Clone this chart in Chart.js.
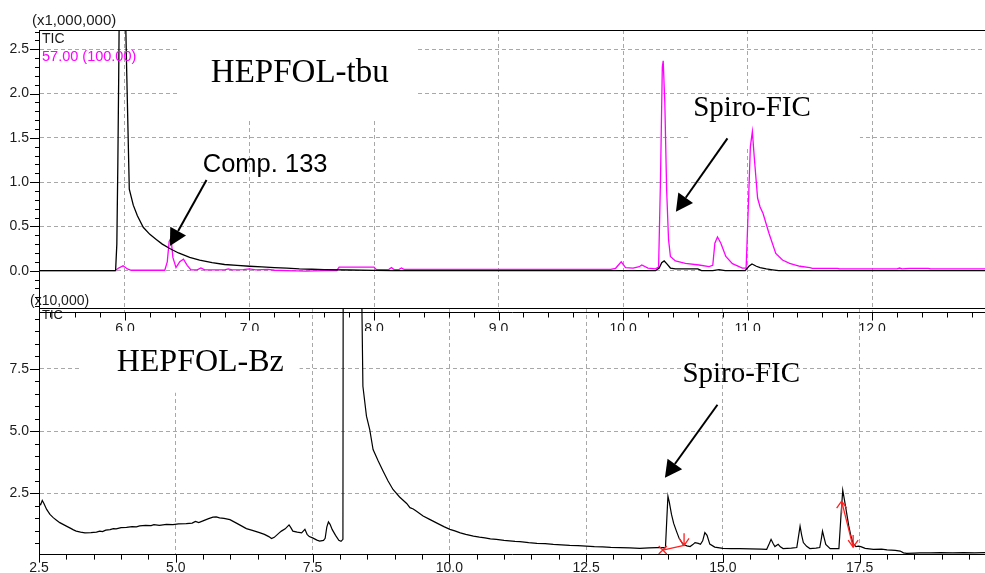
<!DOCTYPE html>
<html>
<head>
<meta charset="utf-8">
<script src="https://cdn.jsdelivr.net/npm/chart.js@4/dist/chart.umd.min.js"></script>
<style>
  html, body { margin: 0; padding: 0; background: #fff; }
  #wrap { position: relative; width: 985px; height: 573px; overflow: hidden; background: #fff; }
  #wrap canvas { position: absolute; left: 0; top: 0; }
</style>
</head>
<body>
<div id="wrap">
  <canvas id="chart-bz" width="985" height="573"></canvas>
  <canvas id="chart-tbu" width="985" height="331"></canvas>
</div>
<script>

/*
  ==================================================
  ====================== DATA ======================
  ==================================================
*/

// HEPFOL-tbu, TIC (x1,000,000) vs retention time (min)
let tbuTicX = [5.31, 5.88, 5.925, 5.935, 5.943, 5.95, 5.956, 5.99, 6.0, 6.015, 6.035, 6.067, 6.1, 6.147, 6.2, 6.254, 6.3, 6.36,
  6.43, 6.52, 6.6, 6.7, 6.8, 6.9, 7.0, 7.1, 7.2, 7.3, 7.4, 7.5, 7.6, 7.8, 8.0, 8.15, 10.26, 10.29, 10.31, 10.33, 10.35,
  10.38, 10.42, 10.6, 10.63, 10.72, 10.77, 10.82, 10.98, 11.01, 11.035, 11.07, 11.1, 11.15, 11.2, 11.25, 12.91];
let tbuTicY = [0, 0, 0, 0.3, 1.2, 2.2, 3.2, 3.6, 3.2, 2.2, 0.92, 0.74, 0.62, 0.49, 0.41, 0.35, 0.30, 0.25,
  0.20, 0.15, 0.12, 0.09, 0.07, 0.06, 0.05, 0.042, 0.035, 0.028, 0.02, 0.016, 0.012, 0.008, 0.004, 0, 0, 0.03, 0.09, 0.11, 0.08,
  0.03, 0.02, 0.02, 0, 0, 0.012, 0, 0, 0.05, 0.075, 0.05, 0.035, 0.02, 0.01, 0, 0];

// HEPFOL-tbu, m/z 57.00 (100.00)
let tbuIonX = [5.31, 5.92, 5.95, 5.985, 6.02, 6.05, 6.32, 6.34, 6.355, 6.37, 6.385, 6.41, 6.44, 6.47, 6.5, 6.53, 6.58,
  6.61, 6.64, 6.8, 6.83, 6.86, 6.95, 7.0, 7.05, 7.15, 7.2, 7.3, 7.45, 7.6, 7.7, 7.72, 8.0, 8.02, 8.12, 8.14, 8.16,
  8.2, 8.22, 8.24, 8.9, 9.9, 9.94, 9.985, 10.02, 10.08, 10.13, 10.15, 10.2, 10.26, 10.285, 10.3, 10.315, 10.322,
  10.335, 10.35, 10.365, 10.38, 10.42, 10.5, 10.61, 10.69, 10.72, 10.737, 10.758, 10.785, 10.825, 10.878, 10.958,
  10.988, 11.005, 11.022, 11.038, 11.055, 11.08, 11.1, 11.124, 11.172, 11.226, 11.28, 11.337, 11.42, 11.5, 11.52, 11.72,
  11.74, 12.2, 12.22, 12.24, 12.3, 12.45, 12.47, 12.91];
let tbuIonY = [0, 0, 0.03, 0.055, 0.02, 0.005, 0.005, 0.1, 0.33, 0.37, 0.15, 0.035, 0.1, 0.13, 0.06, 0.01, 0.01,
  0.03, 0.01, 0.01, 0.02, 0.01, 0.012, 0.02, 0.01, 0.015, 0.005, 0, -0.005, 0, 0, 0.04, 0.04, 0.012, 0.015, 0.035, 0.012,
  0.012, 0.03, 0.015, 0.015, 0.015, 0.027, 0.10, 0.034, 0.03, 0.045, 0.064, 0.03, 0.02, 0.04, 1.0, 2.3, 2.37,
  1.9, 0.9, 0.35, 0.16, 0.11, 0.083, 0.064, 0.045, 0.06, 0.31, 0.38, 0.31, 0.16, 0.08, 0.03,
  0.03, 0.7, 1.4, 1.57, 1.25, 0.82, 0.72, 0.645, 0.42, 0.195, 0.12, 0.083, 0.05, 0.035, 0.027, 0.027,
  0.02, 0.02, 0.03, 0.02, 0.025, 0.025, 0.02, 0.02];

// HEPFOL-Bz, TIC (x10,000)
let bzTicX = [2.5, 2.505, 2.53, 2.56, 2.59, 2.64, 2.7, 2.76, 2.82, 2.88, 2.94, 3.0, 3.08, 3.13, 3.18, 3.26, 3.34, 3.45,
  3.55, 3.61, 3.66, 3.72, 3.8, 3.86, 3.91, 4.0, 4.1, 4.2, 4.28, 4.34, 4.45, 4.55, 4.6, 4.7, 4.83, 4.95, 5.05, 5.19,
  5.3, 5.36, 5.42, 5.52, 5.6, 5.68, 5.74, 5.8, 5.88, 5.99, 6.1, 6.2, 6.29, 6.4, 6.53, 6.62, 6.7, 6.75, 6.8, 6.88,
  6.93, 7.0, 7.07, 7.1, 7.14, 7.22, 7.3, 7.36, 7.4, 7.44, 7.5, 7.58, 7.63, 7.7, 7.73, 7.76, 7.79, 7.82, 7.86, 7.92,
  7.98, 8.02, 8.055, 8.06, 8.39, 8.42, 8.485, 8.545, 8.606, 8.7, 8.79, 8.88, 8.97, 9.09, 9.22, 9.28, 9.34, 9.4,
  9.52, 9.64, 9.8, 9.9, 10.01, 10.1, 10.2, 10.3, 10.44, 10.55, 10.65, 10.75, 10.86, 11.0, 11.1, 11.2, 11.29, 11.45,
  11.6, 11.75, 11.9, 12.05, 12.2, 12.35, 12.5, 12.65, 12.8, 12.95, 13.12, 13.3, 13.48, 13.65, 13.79, 13.95, 13.975,
  13.995, 14.02, 14.06, 14.1, 14.15, 14.2, 14.27, 14.34, 14.4, 14.45, 14.49, 14.55, 14.59, 14.63, 14.67, 14.71,
  14.76, 14.85, 15.0, 15.15, 15.31, 15.5, 15.7, 15.8, 15.85, 15.88, 15.92, 15.95, 16.01, 16.05, 16.1, 16.25, 16.35,
  16.39, 16.41, 16.44, 16.47, 16.53, 16.59, 16.7, 16.77, 16.8, 16.82, 16.85, 16.88, 16.96, 17.05, 17.12, 17.16,
  17.19, 17.22, 17.25, 17.3, 17.34, 17.38, 17.43, 17.48, 17.52, 17.6, 17.75, 17.9, 18.0, 18.15, 18.24, 18.3, 18.36,
  18.5, 18.6, 18.8, 18.97, 19.2, 19.4, 19.6, 19.8];
let bzTicY = [6.0, 2.1, 2.05, 2.22, 2.1, 1.86, 1.66, 1.53, 1.43, 1.33, 1.26, 1.19, 1.1, 1.04, 0.99, 0.95, 0.92, 0.93,
  0.95, 0.99, 0.97, 1.03, 1.05, 1.09, 1.08, 1.13, 1.14, 1.17, 1.16, 1.2, 1.22, 1.21, 1.25, 1.22, 1.26, 1.25, 1.28, 1.29,
  1.31, 1.38, 1.33, 1.42, 1.49, 1.55, 1.56, 1.52, 1.5, 1.45, 1.32, 1.2, 1.09, 1.02, 0.93, 0.86, 0.77, 0.69, 0.74, 0.9,
  0.99, 1.08, 1.24, 1.14, 0.99, 0.95, 0.92, 1.06, 0.86, 0.77, 0.72, 0.63, 0.59, 0.62, 0.7, 1.15, 1.36, 1.26, 1.05, 0.82,
  0.62, 0.58, 0.66, 12, 12, 6.8, 5.6, 5.06, 4.26, 3.8, 3.39, 3.0, 2.66, 2.36, 2.1, 1.93, 1.88, 1.79,
  1.6, 1.46, 1.28, 1.17, 1.06, 1.0, 0.92, 0.86, 0.79, 0.75, 0.72, 0.68, 0.66, 0.62, 0.6, 0.58, 0.57, 0.53,
  0.5, 0.49, 0.46, 0.44, 0.42, 0.41, 0.39, 0.37, 0.36, 0.34, 0.33, 0.32, 0.3, 0.32, 0.33, 0.33, 1.5,
  2.39, 2.15, 1.66, 1.3, 0.99, 0.7, 0.46, 0.4, 0.37, 0.45, 0.53, 0.5, 0.46, 0.6, 0.93, 0.82,
  0.47, 0.35, 0.3, 0.29, 0.29, 0.28, 0.27, 0.26, 0.5, 0.66, 0.48, 0.37, 0.46, 0.36, 0.29, 0.31, 0.33,
  0.9, 1.19, 0.82, 0.53, 0.38, 0.29, 0.31, 0.33, 0.7, 0.99, 0.72, 0.46, 0.29, 0.29, 0.29, 1.7,
  2.63, 2.25, 1.86, 1.2, 0.79, 0.5, 0.37, 0.39, 0.37, 0.3, 0.26, 0.27, 0.24, 0.22, 0.19, 0.12, 0.1,
  0.11, 0.12, 0.12, 0.13, 0.12, 0.13, 0.12, 0.13];

// labelled (major) ticks
let tbuXTicks = [6.0, 7.0, 8.0, 9.0, 10.0, 11.0, 12.0];
let tbuYTicks = [0.0, 0.5, 1.0, 1.5, 2.0, 2.5];
let bzXTicks = [2.5, 5.0, 7.5, 10.0, 12.5, 15.0, 17.5];
let bzYTicks = [2.5, 5.0, 7.5];

/*
  ==================================================
  ===================== HELPERS =====================
  ==================================================
*/

let SANS = '"Liberation Sans", Arial, sans-serif';
let SERIF = '"Liberation Serif", "Times New Roman", serif';

let pairs = (xs, ys) => xs.map((x, i) => ({ x, y: ys[i] }));
let near = (a, b) => Math.abs(a - b) < 1e-6;
let inList = list => v => list.some(t => near(t, v));

let tickValues = (min, max, step) => {
  let out = [];
  for (let k = Math.ceil(min / step - 1e-9); k * step <= max + 1e-9; k++)
    out.push(Math.round(k * step * 1e6) / 1e6);
  return out;
}

let axis = ({ min, max, step, major, size, padding, horizontal }) => ({
  type: 'linear', min, max,
  afterBuildTicks: scale => { scale.ticks = tickValues(min, max, step).map(value => ({ value })) },
  afterFit: scale => { if (horizontal) scale.height = size; else scale.width = size; },
  ticks: {
    autoSkip: false, maxRotation: 0, padding, color: '#1a1a1a',
    font: { family: SANS, size: 14 },
    callback: v => major(v) ? v.toFixed(1) : ''
  },
  grid: {
    drawTicks: false,
    color: c => c.tick && major(c.tick.value) ? '#a8a8a8' : 'rgba(0,0,0,0)'
  },
  border: { display: true, color: '#000', width: 1, dash: [4, 3] }
})

let arrow = (ctx, x1, y1, x2, y2, head, half) => {
  let a = Math.atan2(y2 - y1, x2 - x1);
  let bx = x2 - head * Math.cos(a), by = y2 - head * Math.sin(a);
  ctx.beginPath(); ctx.moveTo(x1, y1); ctx.lineTo(bx, by); ctx.stroke();
  ctx.beginPath(); ctx.moveTo(x2, y2);
  ctx.lineTo(bx + half * Math.sin(a), by - half * Math.cos(a));
  ctx.lineTo(bx - half * Math.sin(a), by + half * Math.cos(a));
  ctx.closePath(); ctx.fill();
}

// small open arrow used by the integration marks (dir 1 = down, -1 = up)
let openHead = (ctx, x, y, dir) => {
  ctx.beginPath();
  ctx.moveTo(x - 5, y - 7 * dir); ctx.lineTo(x, y); ctx.lineTo(x + 5, y - 7 * dir);
  ctx.moveTo(x, y); ctx.lineTo(x, y - 12 * dir);
  ctx.stroke();
}

let cross = (ctx, x, y) => {
  ctx.beginPath();
  ctx.moveTo(x - 4, y - 4); ctx.lineTo(x + 4, y + 4);
  ctx.moveTo(x + 4, y - 4); ctx.lineTo(x - 4, y + 4);
  ctx.stroke();
}

let drawTicks = (ctx, scale, major, majorLen, minorLen) => {
  ctx.save();
  ctx.strokeStyle = '#000';
  ctx.lineWidth = 1;
  scale.ticks.forEach(t => {
    let len = major(t.value) ? majorLen : minorLen;
    let p = Math.round(scale.getPixelForValue(t.value)) + 0.5;
    ctx.beginPath();
    if (scale.isHorizontal()) { ctx.moveTo(p, scale.top); ctx.lineTo(p, scale.top + len); }
    else { ctx.moveTo(scale.right - len, p); ctx.lineTo(scale.right, p); }
    ctx.stroke();
  });
  ctx.restore();
}

/*
  ==================================================
  ================ PLUGIN (overlays) ================
  ==================================================
*/

let overlay = cfg => ({
  id: 'overlay-' + cfg.name,
  beforeDatasetsDraw(chart) {
    let { ctx, scales: { x, y } } = chart;
    ctx.save();
    ctx.fillStyle = '#fff';
    cfg.boxes.forEach(b => {
      let x1 = x.getPixelForValue(b.x1), x2 = x.getPixelForValue(b.x2);
      let y1 = y.getPixelForValue(b.y1), y2 = y.getPixelForValue(b.y2);
      ctx.fillRect(x1, y1, x2 - x1, y2 - y1);
    });
    ctx.restore();
  },
  afterDraw(chart) {
    let { ctx, chartArea: area, scales: { x, y } } = chart;

    // frame top + ticks
    ctx.save();
    ctx.strokeStyle = '#000';
    ctx.lineWidth = 1;
    ctx.beginPath();
    ctx.moveTo(area.left, Math.round(area.top) + 0.5);
    ctx.lineTo(area.right, Math.round(area.top) + 0.5);
    ctx.stroke();
    ctx.restore();

    drawTicks(ctx, x, cfg.xMajor, 8, 5);
    drawTicks(ctx, y, cfg.yMajor, 9, 4);

    ctx.save();
    ctx.textBaseline = 'alphabetic';
    ctx.textAlign = 'left';

    // unit and trace labels
    cfg.labels.forEach(l => {
      ctx.font = l.font;
      ctx.fillStyle = l.color;
      ctx.fillText(l.text, l.dx, area.top + l.dy);
    });

    // notes
    cfg.notes.forEach(n => {
      ctx.font = n.font;
      ctx.fillStyle = '#000';
      ctx.fillText(n.text, x.getPixelForValue(n.x), y.getPixelForValue(n.y));
    });

    // arrows
    ctx.strokeStyle = '#000';
    ctx.fillStyle = '#000';
    ctx.lineWidth = 2;
    cfg.arrows.forEach(a => {
      arrow(ctx, x.getPixelForValue(a.x1), y.getPixelForValue(a.y1),
        x.getPixelForValue(a.x2), y.getPixelForValue(a.y2), 17, 9);
    });

    // integration marks
    ctx.strokeStyle = '#ff2020';
    ctx.lineWidth = 1.3;
    (cfg.marks || []).forEach(m => {
      let x1 = x.getPixelForValue(m.x1), y1 = y.getPixelForValue(m.y1);
      let x2 = x.getPixelForValue(m.x2), y2 = y.getPixelForValue(m.y2);
      ctx.beginPath(); ctx.moveTo(x1, y1); ctx.lineTo(x2, y2); ctx.stroke();
      if (m.start == 'x') cross(ctx, x1, y1); else openHead(ctx, x1, y1, -1);
      openHead(ctx, x2, y2, 1);
    });

    ctx.restore();
  }
})

/*
  ==================================================
  ================= BOTTOM: HEPFOL-Bz ================
  ==================================================
*/

let bzXMajor = inList(bzXTicks);
let bzYMajor = inList(bzYTicks);

new Chart(document.getElementById('chart-bz'), {
  type: 'line',
  data: {
    datasets: [{
      label: 'TIC',
      data: pairs(bzTicX, bzTicY),
      borderColor: '#000',
      borderWidth: 1.2
    }]
  },
  options: {
    responsive: false,
    animation: false,
    devicePixelRatio: 1,
    layout: { padding: { top: 308, left: 0, right: 0, bottom: 0 } },
    elements: { point: { radius: 0 }, line: { tension: 0 } },
    plugins: { legend: { display: false }, tooltip: { enabled: false } },
    scales: {
      x: axis({ min: 2.5, max: 19.79, step: 0.5, major: bzXMajor, size: 17.7, padding: 5, horizontal: true }),
      y: axis({ min: 0.048, max: 9.94, step: 0.5, major: bzYMajor, size: 39, padding: 10 })
    }
  },
  plugins: [overlay({
    name: 'bz',
    xMajor: bzXMajor,
    yMajor: bzYMajor,
    boxes: [{ x1: 3.244, x2: 7.263, y1: 9.94, y2: 6.54 }],
    labels: [
      { text: '(x10,000)', dx: 30, dy: -3, font: '14px ' + SANS, color: '#1a1a1a' },
      { text: 'TIC', dx: 42, dy: 11, font: '13px ' + SANS, color: '#1a1a1a' }
    ],
    notes: [
      { text: 'HEPFOL-Bz', x: 3.92, y: 7.42, font: '32px ' + SERIF },
      { text: 'Spiro-FIC', x: 14.26, y: 6.98, font: '29px ' + SERIF }
    ],
    arrows: [{ x1: 14.9, y1: 6.06, x2: 13.94, y2: 3.13 }],
    marks: [
      { x1: 13.9, y1: 0.23, x2: 14.29, y2: 0.42, start: 'x' },
      { x1: 17.17, y1: 2.19, x2: 17.38, y2: 0.35, start: 'up' }
    ]
  })]
});

/*
  ==================================================
  ================ TOP: HEPFOL-tbu ================
  ==================================================
*/

let tbuXMajor = inList(tbuXTicks);
let tbuYMajor = inList(tbuYTicks);

new Chart(document.getElementById('chart-tbu'), {
  type: 'line',
  data: {
    datasets: [
      { label: 'TIC', data: pairs(tbuTicX, tbuTicY), borderColor: '#000', borderWidth: 1.3 },
      { label: '57.00 (100.00)', data: pairs(tbuIonX, tbuIonY), borderColor: '#ff00ff', borderWidth: 1.3 }
    ]
  },
  options: {
    responsive: false,
    animation: false,
    devicePixelRatio: 1,
    layout: { padding: { top: 30, left: 0, right: 0, bottom: 0 } },
    elements: { point: { radius: 0 }, line: { tension: 0 } },
    plugins: { legend: { display: false }, tooltip: { enabled: false } },
    scales: {
      x: axis({ min: 5.31, max: 12.906, step: 0.2, major: tbuXMajor, size: 18.5, padding: 8, horizontal: true }),
      y: axis({ min: -0.472, max: 2.717, step: 0.1, major: tbuYMajor, size: 39, padding: 10 })
    }
  },
  plugins: [overlay({
    name: 'tbu',
    xMajor: tbuXMajor,
    yMajor: tbuYMajor,
    boxes: [
      { x1: 6.441, x2: 8.35, y1: 2.717, y2: 1.723 },
      { x1: 10.531, x2: 11.902, y1: 1.972, y2: 1.396 }
    ],
    labels: [
      { text: '(x1,000,000)', dx: 32, dy: -5, font: '15px ' + SANS, color: '#1a1a1a' },
      { text: 'TIC', dx: 42, dy: 13, font: '14px ' + SANS, color: '#1a1a1a' },
      { text: '57.00 (100.00)', dx: 42, dy: 31, font: '14.5px ' + SANS, color: '#ff00ff' }
    ],
    notes: [
      { text: 'HEPFOL-tbu', x: 6.69, y: 2.13, font: '33px ' + SERIF },
      { text: 'Comp. 133', x: 6.625, y: 1.114, font: '25.5px ' + SANS },
      { text: 'Spiro-FIC', x: 10.563, y: 1.746, font: '29px ' + SERIF }
    ],
    arrows: [
      { x1: 6.655, y1: 1.024, x2: 6.361, y2: 0.279 },
      { x1: 10.838, y1: 1.494, x2: 10.424, y2: 0.666 }
    ]
  })]
});
</script>
</body>
</html>
